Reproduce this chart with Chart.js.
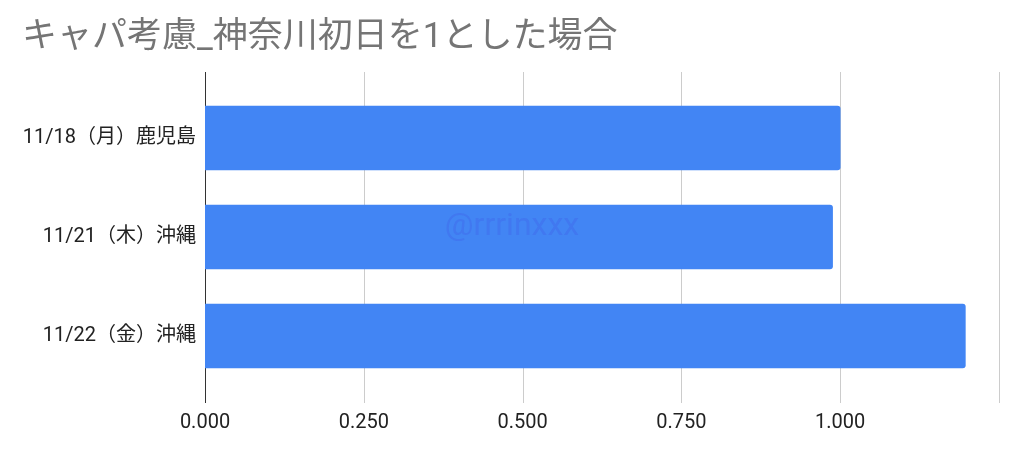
<!DOCTYPE html>
<html>
<head>
<meta charset="utf-8">
<script src="https://cdn.jsdelivr.net/npm/chart.js@4.4.0/dist/chart.umd.min.js"></script>
<style>
    html, body { margin: 0; padding: 0; background: #fff; }
    #wrap { width: 1024px; height: 457px; }
</style>
</head>
<body>
<div id="wrap"><canvas id="capaChart" width="1024" height="457"></canvas></div>
<script>
// Chart data
const chartTitle = 'キャパ考慮_神奈川初日を1とした場合';
const categories = ['11/18（月）鹿児島', '11/21（木）沖縄', '11/22（金）沖縄'];
const ratios = [1.0, 0.988, 1.197];
const axisMin = 0;
const axisMax = 1.25;
const axisStep = 0.25;
const watermark = '@rrrinxxx';

const FONT = "Roboto, 'Noto Sans CJK JP', sans-serif";

// Grid lines reach a bit past the bar band, like the original sheet chart
const gridPlugin = {
    id: 'sheetGrid',
    beforeDatasetsDraw(chart) {
        const { ctx, chartArea, scales } = chart;
        const top = chartArea.top - 16.5;
        const bottom = chartArea.bottom + 17.5;
        ctx.save();
        scales.x.ticks.forEach(t => {
            const x = Math.round(scales.x.getPixelForValue(t.value)) + 0.5;
            ctx.beginPath();
            ctx.strokeStyle = t.value === 0 ? '#333333' : '#cccccc';
            ctx.lineWidth = 1;
            ctx.moveTo(x, top);
            ctx.lineTo(x, bottom);
            ctx.stroke();
        });
        ctx.restore();
    },
    afterDraw(chart) {
        const { ctx, width } = chart;
        ctx.save();
        ctx.font = "32px " + FONT;
        ctx.fillStyle = 'rgba(60, 60, 220, 0.18)';
        ctx.textAlign = 'center';
        ctx.textBaseline = 'alphabetic';
        ctx.fillText(watermark, width / 2, 235);
        ctx.restore();
    }
};

new Chart(document.getElementById('capaChart').getContext('2d'), {
    type: 'bar',
    data: {
        labels: categories,
        datasets: [{
            data: ratios,
            backgroundColor: '#4285f4',
            borderWidth: 0,
            borderRadius: 3,
            borderSkipped: 'start',
            barThickness: 64
        }]
    },
    options: {
        indexAxis: 'y',
        responsive: false,
        animation: false,
        layout: { padding: { left: 22, right: 21, top: 0, bottom: 0 } },
        plugins: {
            legend: { display: false },
            tooltip: { enabled: false },
            title: {
                display: true,
                text: chartTitle,
                align: 'start',
                color: '#757575',
                font: { family: FONT, size: 35, weight: 'normal' },
                padding: { top: 17, bottom: 29.5 }
            }
        },
        scales: {
            x: {
                min: axisMin,
                max: axisMax,
                border: { display: false },
                grid: { display: false, drawTicks: false },
                afterFit: s => { s.height = 71.5; },
                ticks: {
                    stepSize: axisStep,
                    padding: 25,
                    color: '#222222',
                    font: { family: FONT, size: 20 },
                    callback: v => (v >= axisMax ? '' : v.toFixed(3))
                }
            },
            y: {
                border: { display: false },
                grid: { display: false, drawTicks: false },
                afterFit: s => { s.width = 183; },
                ticks: {
                    padding: 9,
                    color: '#222222',
                    font: { family: FONT, size: 20 }
                }
            }
        }
    },
    plugins: [gridPlugin]
});
</script>
</body>
</html>
